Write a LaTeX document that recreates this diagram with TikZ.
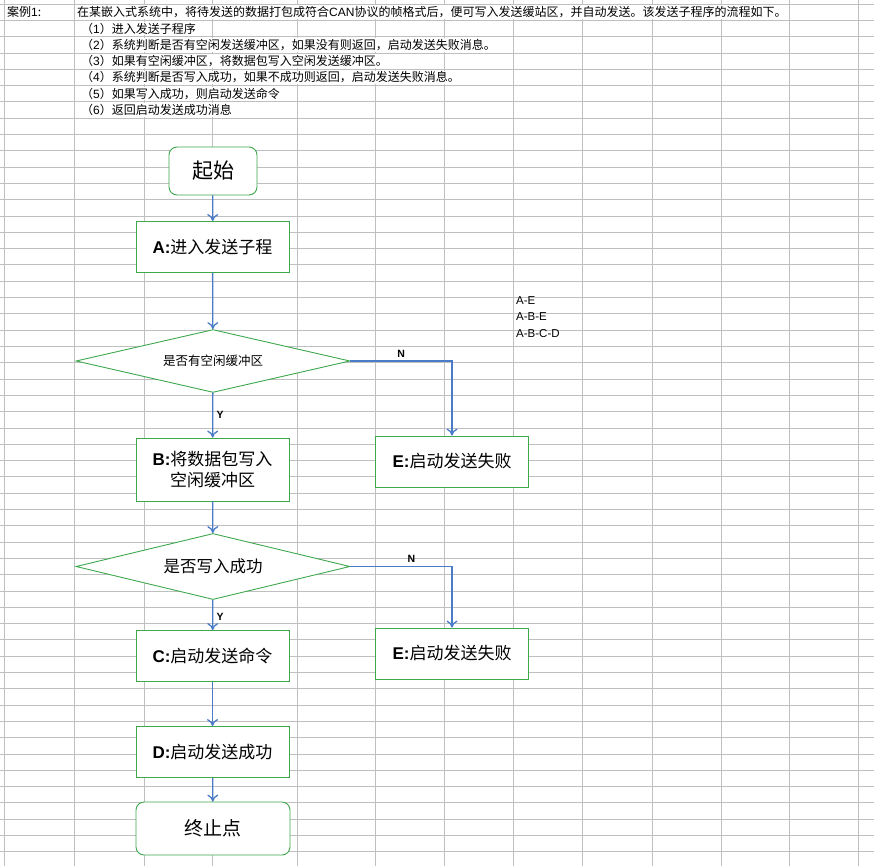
\documentclass[tikz,border=0pt]{standalone}
\usepackage{fontspec}
\setmainfont{Noto Sans CJK SC}
\newfontfamily\lat{Liberation Sans}
\usetikzlibrary{shapes.geometric, arrows.meta}
\definecolor{boxGreen}{HTML}{3EA84E}
\definecolor{flowBlue}{HTML}{4A7BC6}
\tikzset{
  cell/.style={rectangle, draw=boxGreen, line width=0.9pt, minimum width=153pt, minimum height=51pt, font=\fontsize{17}{21}\selectfont, align=center},
  term/.style={cell, rounded corners=8pt},
  decide/.style={diamond, draw=boxGreen, line width=0.9pt, aspect=1.95, minimum width=274pt, inner sep=0pt},
  flow/.style={-{To[length=7pt,width=11pt]}, draw=flowBlue, line width=1.3pt},
  yn/.style={font=\lat\bfseries\fontsize{10.5}{12}\selectfont},
  sheet/.style={font=\fontsize{12}{14}\selectfont, anchor=west, inner sep=1pt}
}
\begin{document}
\begin{tikzpicture}[x=1pt, y=-1pt]
	\useasboundingbox (0,0) rectangle (874,866);
	% sheet grid
	\foreach \r in {0,...,53}
		\draw[gray!50, line width=0.6pt] (0,{4+16.3*\r}) -- (874,{4+16.3*\r});
	\foreach \c in {4.5,74,144,212,297,375,444,513,582,652,721,789,858}
		\draw[gray!50, line width=0.6pt] (\c,0) -- (\c,866);

	% header rows
	\node[sheet, fill=white](caseLbl) at (6,12){案例{\lat 1}:};
	\node[sheet, fill=white](intro) at (76,12){在某嵌入式系统中，将待发送的数据打包成符合{\lat CAN}协议的帧格式后，便可写入发送缓站区，并自动发送。该发送子程序的流程如下。};
	\node[sheet, fill=white](step1) at (80,28.5){（{\lat 1}）进入发送子程序};
	\node[sheet, fill=white](step2) at (80,44.8){（{\lat 2}）系统判断是否有空闲发送缓冲区，如果没有则返回，启动发送失败消息。};
	\node[sheet, fill=white](step3) at (80,61.1){（{\lat 3}）如果有空闲缓冲区，将数据包写入空闲发送缓冲区。};
	\node[sheet, fill=white](step4) at (80,77.4){（{\lat 4}）系统判断是否写入成功，如果不成功则返回，启动发送失败消息。};
	\node[sheet, fill=white](step5) at (80,93.7){（{\lat 5}）如果写入成功，则启动发送命令};
	\node[sheet, fill=white](step6) at (80,110){（{\lat 6}）返回启动发送成功消息};

	% paths
	\node[sheet, font=\lat\fontsize{11.5}{13}\selectfont](pathOne) at (515,300.5){A-E};
	\node[sheet, font=\lat\fontsize{11.5}{13}\selectfont](pathTwo) at (515,316.8){A-B-E};
	\node[sheet, font=\lat\fontsize{11.5}{13}\selectfont](pathThree) at (515,333.1){A-B-C-D};

	% flow chart
	\node[term, fill=white, minimum width=88pt, minimum height=48pt, font=\fontsize{21}{25}\selectfont](start) at (213,171){起始};
	\node[cell, fill=white](stepA) at (212.5,247){{\lat\bfseries A:}进入发送子程};
	\node[decide, fill=white, font=\fontsize{12.5}{15}\selectfont](haveBuf) at (213,361){是否有空闲缓冲区};
	\node[cell, fill=white, minimum height=63pt](stepB) at (212.5,469.5){{\lat\bfseries B:}将数据包写入\\空闲缓冲区};
	\node[cell, fill=white](failOne) at (452,461.5){{\lat\bfseries E:}启动发送失败};
	\node[decide, fill=white, font=\fontsize{16.5}{20}\selectfont](writeOk) at (213,566.5){是否写入成功};
	\node[cell, fill=white](stepC) at (212.5,656){{\lat\bfseries C:}启动发送命令};
	\node[cell, fill=white](failTwo) at (452,653.5){{\lat\bfseries E:}启动发送失败};
	\node[cell, fill=white](stepD) at (212.5,752){{\lat\bfseries D:}启动发送成功};
	\node[term, fill=white, minimum height=53pt, minimum width=154pt, font=\fontsize{19}{23}\selectfont](finish) at (213,828.5){终止点};

	% connectors
	\draw[flow] (start) -- (stepA);
	\draw[flow] (stepA) -- (haveBuf);
	\draw[flow] (haveBuf) -- node[yn, right, pos=0.5]{Y} (stepB);
	\draw[flow] (haveBuf.east) -| node[yn, above, pos=0.25]{N} (failOne.north);
	\draw[flow] (stepB) -- (writeOk);
	\draw[flow] (writeOk) -- node[yn, right, pos=0.55]{Y} (stepC);
	\draw[flow] (writeOk.east) -| node[yn, above, pos=0.3]{N} (failTwo.north);
	\draw[flow] (stepC) -- (stepD);
	\draw[flow] (stepD) -- (finish);
\end{tikzpicture}
\end{document}
